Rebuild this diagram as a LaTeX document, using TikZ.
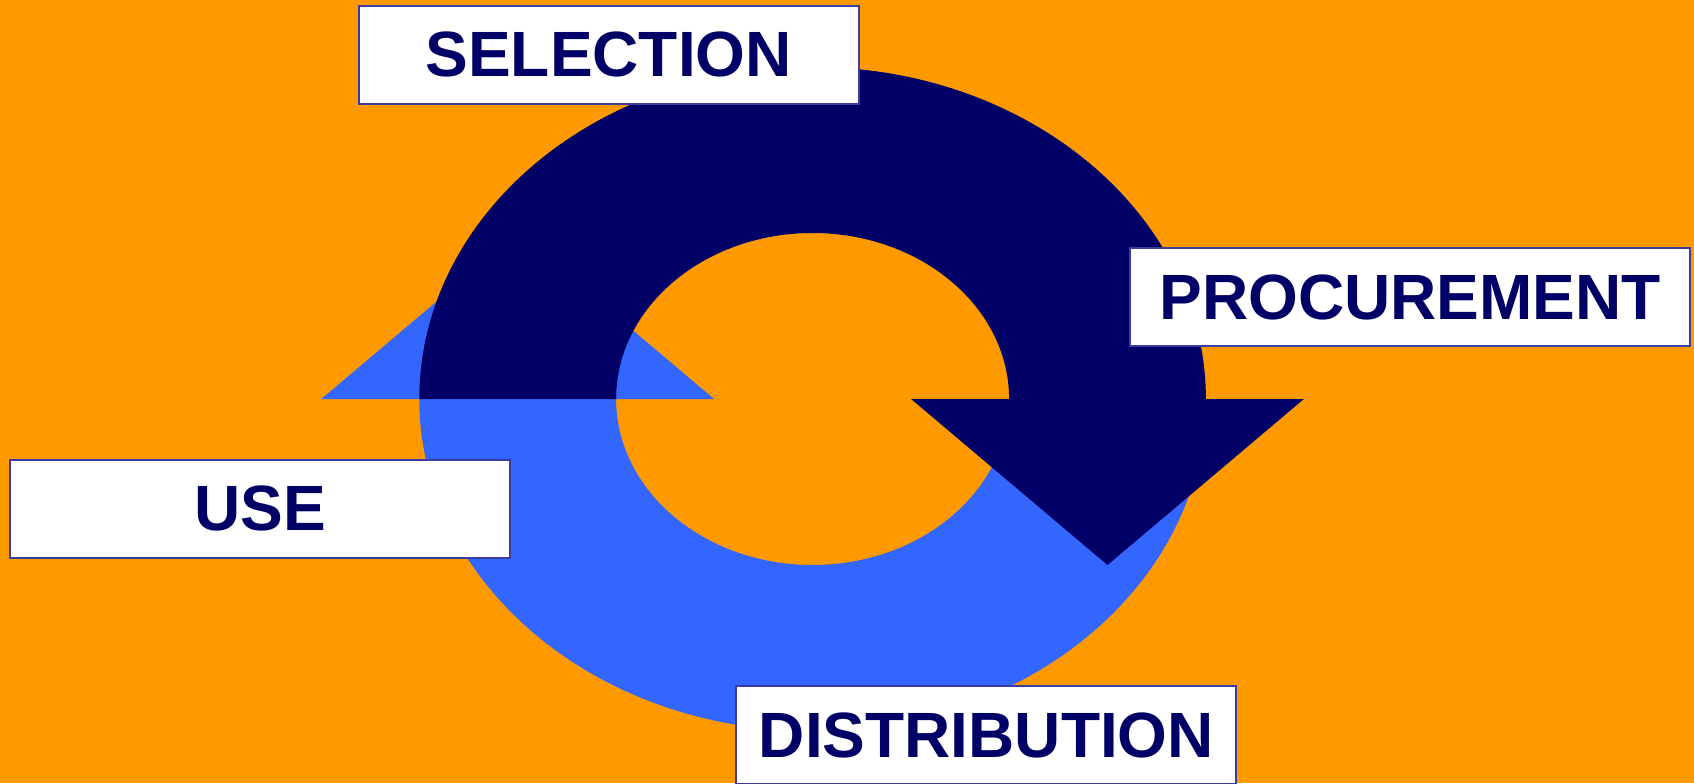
\documentclass[tikz,border=0pt]{standalone}
\usepackage{fontspec}
\setmainfont{Liberation Sans}
\definecolor{bgorange}{HTML}{FF9900}
\definecolor{darknavy}{HTML}{000066}
\definecolor{cycleblue}{HTML}{3366FF}
\definecolor{boxline}{HTML}{3C3CA0}
\begin{document}
\begin{tikzpicture}[x=0.5pt,y=-0.5pt,
	label box/.style={draw=boxline,line width=1pt,fill=white,minimum width=250pt,minimum height=49pt,inner sep=0pt,text=darknavy,font=\fontsize{32}{38}\selectfont\bfseries}]
	\def\cx{812.6} 
	\def\cy{399}
	\def\ra{393.3}
	\def\rb{332}
	\def\ia{196.5}
	\def\ib{166}
	\useasboundingbox (0,0) rectangle (1694,783);
	\fill[bgorange] (0,0) rectangle (1694,783);
	% lower half and arrow up
	\fill[cycleblue] (\cx-\ra,\cy) arc[start angle=180,end angle=0,x radius=\ra,y radius=\rb]
		-- (\cx+\ia,\cy) arc[start angle=0,end angle=180,x radius=\ia,y radius=\ib] -- cycle;
	\fill[cycleblue] (\cx-\ra-98,\cy) -- (\cx-\ra/2-\ia/2,\cy-\ib) -- (\cx-\ia+98,\cy) -- cycle;
	% upper half and arrow down
	\fill[darknavy] (\cx-\ra,\cy) arc[start angle=180,end angle=360,x radius=\ra,y radius=\rb]
		-- (\cx+\ia,\cy) arc[start angle=360,end angle=180,x radius=\ia,y radius=\ib] -- cycle;
	\fill[darknavy] (\cx+\ia-98,\cy) -- (\cx+\ra/2+\ia/2,\cy+\ib) -- (\cx+\ra+98,\cy) -- cycle;
	\node[label box] (selection) at (608.7,54.9) {SELECTION};
	\node[label box,minimum width=280pt] (procurement) at (1410,297.3) {PROCUREMENT};
	\node[label box] (use) at (260.3,508.8) {USE};
	\node[label box] (distribution) at (986.4,735) {DISTRIBUTION};
\end{tikzpicture}
\end{document}
